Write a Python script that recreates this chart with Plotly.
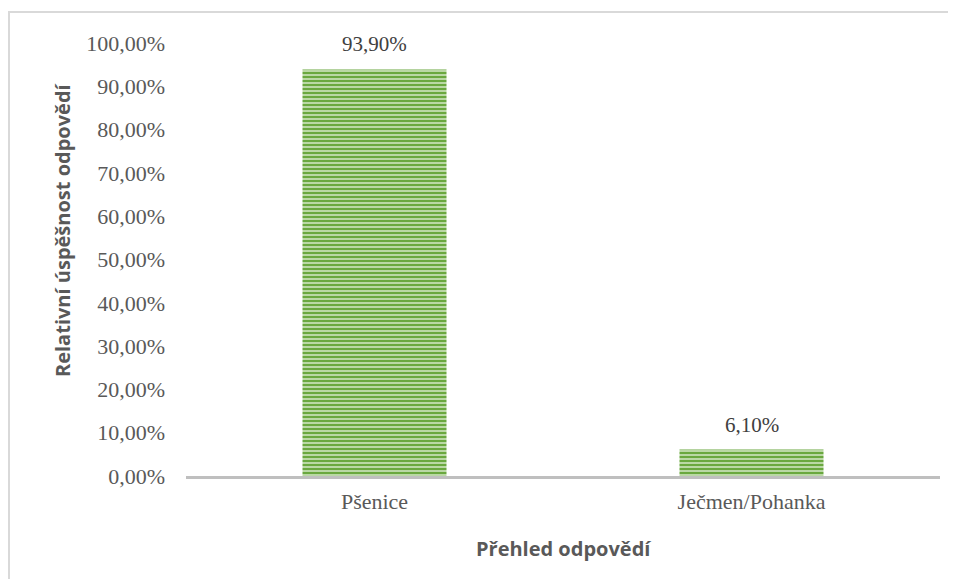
import plotly.graph_objects as go

categories = ["Pšenice", "Ječmen/Pohanka"]
values = [0.939, 0.061]
y_title = "Relativní úspěšnost odpovědí"
x_title = "Přehled odpovědí"

serif = "Liberation Serif"
sans = "Open Sans"

W, H = 948, 571
L, R, T, B = 178, 16, 35, 103
PW, PH = W - L - R, H - T - B


def px_x(x):
    return (x - L) / PW


def px_y(y):
    return (T + PH - y) / PH


fig = go.Figure(
    go.Bar(
        x=categories,
        y=values,
        width=0.382,
        marker=dict(
            color="#70AD47",
            line=dict(width=0),
            pattern=dict(shape="-", fgcolor="#6AA83F", bgcolor="#D3E7C5",
                         size=4, solidity=0.62, fgopacity=1),
        ),
        cliponaxis=False,
        hoverinfo="x+y",
    )
)

annotations = [
    dict(x=c, y=v, xref="x", yref="y", text=f"{v*100:.2f}%".replace(".", ","),
         showarrow=False, yanchor="bottom", yshift=11,
         font=dict(family=serif, size=21, color="#404040"))
    for c, v in zip(categories, values)
]
annotations += [
    dict(x=px_x(54), y=px_y(222), xref="paper", yref="paper", text=f"<b>{y_title}</b>",
         textangle=-90, showarrow=False, xanchor="center", yanchor="middle",
         font=dict(family=sans, size=20, color="#595959")),
    dict(x=px_x(555), y=px_y(540), xref="paper", yref="paper", text=f"<b>{x_title}</b>",
         showarrow=False, xanchor="center", yanchor="middle",
         font=dict(family=sans, size=20, color="#595959")),
]

fig.update_layout(
    width=W,
    height=H,
    margin=dict(l=L, r=R, t=T, b=B),
    paper_bgcolor="white",
    plot_bgcolor="white",
    separators=",.",
    showlegend=False,
    annotations=annotations,
    xaxis=dict(
        showline=True,
        linecolor="#BFBFBF",
        linewidth=3,
        showgrid=False,
        ticks="",
        tickfont=dict(family=serif, size=22, color="#595959"),
        ticklabelstandoff=4,
    ),
    yaxis=dict(
        range=[0, 1],
        dtick=0.1,
        tickformat=".2%",
        showgrid=False,
        zeroline=False,
        showline=False,
        ticks="",
        tickfont=dict(family=serif, size=22, color="#595959"),
        ticklabelstandoff=20,
    ),
    shapes=[
        dict(
            type="rect",
            xref="paper",
            yref="paper",
            x0=px_x(1),
            x1=px_x(W + 20),
            y0=px_y(H + 20),
            y1=px_y(4),
            line=dict(color="#D9D9D9", width=2),
            fillcolor="rgba(0,0,0,0)",
            layer="below",
        )
    ],
)

fig.write_html("out.html")
